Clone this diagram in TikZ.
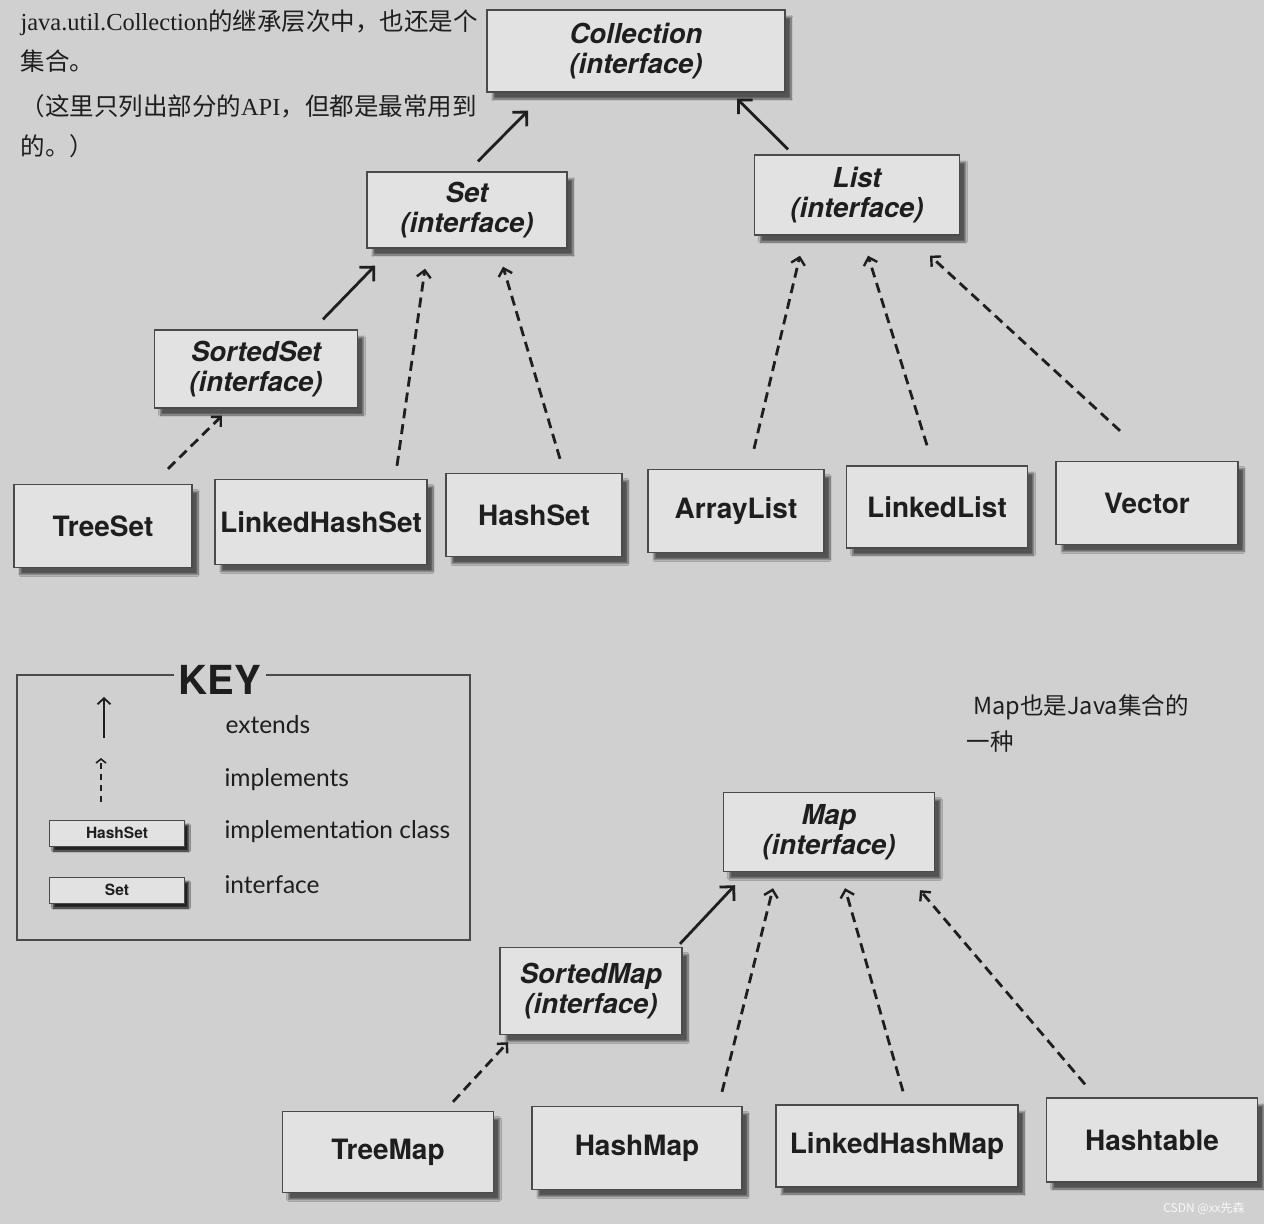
\documentclass[tikz,border=0pt]{standalone}
\usepackage{fontspec}
\usepackage{xcolor}
\usepackage{tikz}
\usetikzlibrary{calc,arrows.meta,shadows.blur}
\setmainfont{Liberation Serif}
\newfontfamily\boxfont{TeX Gyre Heros}
\newfontfamily\keyfont{Lato}
\newfontfamily\cjk{Noto Sans CJK SC}
\newcommand\zh[1]{{\cjk #1}}
\definecolor{cpaper}{HTML}{D0D0D0}
\definecolor{cbox}{HTML}{E2E2E2}
\definecolor{cedge}{HTML}{4A4A4A}
\definecolor{cink}{HTML}{1E1E1E}

\begin{document}
\begin{tikzpicture}[x=1pt,y=-1pt,
  cbx/.style={draw=cedge,line width=1.4pt,fill=cbox,inner sep=0pt,align=center,text=cink,
  blur shadow={shadow xshift=6pt,shadow yshift=-7pt,shadow opacity=60,shadow blur steps=10},
  font=\boxfont\bfseries\fontsize{28}{30}\selectfont},
  ifc/.style={cbx,font=\boxfont\bfseries\itshape\fontsize{27.5}{29.5}\selectfont},
  keybx/.style={cbx,line width=1pt,minimum width=135pt,minimum height=26pt,
  blur shadow={shadow xshift=4pt,shadow yshift=-5pt,shadow opacity=60},
  font=\boxfont\bfseries\fontsize{15.5}{17}\selectfont},
  ext/.style={-{Straight Barb[length=10pt,width=20pt,line width=2.8pt]},line width=2.8pt,draw=cink},
  impl/.style={-{Straight Barb[length=7pt,width=14pt,line width=2.4pt]},line width=2.8pt,draw=cink,dash pattern=on 10pt off 6pt},
  keytxt/.style={anchor=base west,text=cink,font=\keyfont\fontsize{24.5}{27}\selectfont},
  note/.style={anchor=base west,text=cink,font=\fontsize{24.5}{28}\selectfont}]
\useasboundingbox (0,0) rectangle (1264,1224);
\fill[cpaper] (0,0) rectangle (1264,1224);
% notes
\node[note] (note1) at (17,30) {java.util.Collection\zh{的继承层次中，也还是个}};
\node[note] (note2) at (17,70) {\zh{集合。}};
\node[note] (note3) at (17,115) {\zh{（这里只列出部分的}API\zh{，但都是最常用到}};
\node[note] (note4) at (17,155) {\zh{的。）}};
\node[anchor=base west,text=cink,font=\cjk\fontsize{23.5}{26}\selectfont] (mapnote1) at (970,714) {Map也是Java集合的};
\node[anchor=base west,text=cink,font=\cjk\fontsize{23.5}{26}\selectfont] (mapnote2) at (963,750) {一种};
% collection tree
\node[ifc,minimum width=298pt,minimum height=82pt] (coll) at (636,51) {Collection\\(interface)};
\node[ifc,minimum width=200pt,minimum height=76pt] (set) at (467,210) {Set\\(interface)};
\node[ifc,minimum width=205pt,minimum height=80pt] (list) at (857,195) {List\\(interface)};
\node[ifc,minimum width=203pt,minimum height=78pt] (sset) at (256,369) {SortedSet\\(interface)};
\node[cbx,minimum width=178pt,minimum height=83pt] (tset) at (103,526) {TreeSet};
\node[cbx,minimum width=212pt,minimum height=85pt] (lhset) at (321,522) {LinkedHashSet};
\node[cbx,minimum width=176pt,minimum height=83pt] (hset) at (534,515) {HashSet};
\node[cbx,minimum width=176pt,minimum height=83pt] (alist) at (736,511) {ArrayList};
\node[cbx,minimum width=181pt,minimum height=82pt] (llist) at (937,507) {LinkedList};
\node[cbx,minimum width=182pt,minimum height=83pt] (vec) at (1147,503) {Vector};
\draw[ext] ([xshift=11pt,yshift=10pt]set.north) -- ([xshift=-108pt,yshift=-18pt]coll.south);
\draw[ext] ([xshift=-69pt,yshift=5pt]list.north) -- ([xshift=101pt,yshift=-6pt]coll.south);
\draw[ext] ([xshift=67pt,yshift=10pt]sset.north) -- ([xshift=-92pt,yshift=-17pt]set.south);
\draw[impl] ([xshift=76pt,yshift=13pt]lhset.north) -- ([xshift=-42pt,yshift=-20pt]set.south);
\draw[impl] ([xshift=26pt,yshift=14pt]hset.north) -- ([xshift=36pt,yshift=-18pt]set.south);
\draw[impl] ([xshift=65pt,yshift=15pt]tset.north) -- ([xshift=-34pt,yshift=-7pt]sset.south);
\draw[impl] ([xshift=18pt,yshift=20pt]alist.north) -- ([xshift=-57pt,yshift=-20pt]list.south);
\draw[impl] ([xshift=-10pt,yshift=20pt]llist.north) -- ([xshift=11pt,yshift=-20pt]list.south);
\draw[impl] ([xshift=-27pt,yshift=30pt]vec.north) -- ([xshift=73pt,yshift=-20pt]list.south);
% key
\draw[cedge,line width=1.4pt] (17,675) rectangle (470,940);
\node[fill=cpaper,inner sep=5pt,text=cink,font=\boxfont\bfseries\fontsize{40}{40}\selectfont] (keyhead) at (220,680) {KEY};
\coordinate (extlo) at (104,738);\coordinate (exthi) at (104,697);
\coordinate (impllo) at (101,802);\coordinate (implhi) at (101,758);
\draw[-{Straight Barb[length=6pt,width=13pt,line width=1.8pt]},line width=1.8pt,draw=cink] (extlo) -- (exthi);
\draw[-{Straight Barb[length=4pt,width=10pt,line width=1.6pt]},line width=2pt,draw=cink,dash pattern=on 6pt off 5pt] (impllo) -- (implhi);
\node[keybx] (keyimpl) at (117,833) {HashSet};
\node[keybx] (keyifc) at (117,890) {Set};
\node[keytxt] (extlbl) at (222,733) {extends};
\node[keytxt] (impllbl) at (221,786) {implements};
\node[keytxt] (clslbl) at (221,838) {implementation class};
\node[keytxt] (ifclbl) at (221,893) {interface};
% map tree
\node[ifc,minimum width=211pt,minimum height=79pt] (map) at (829,832) {Map\\(interface)};
\node[ifc,minimum width=182pt,minimum height=87pt] (smap) at (591,991) {SortedMap\\(interface)};
\node[cbx,minimum width=211pt,minimum height=81pt] (tmap) at (388,1152) {TreeMap};
\node[cbx,minimum width=210pt,minimum height=83pt] (hmap) at (637,1148) {HashMap};
\node[cbx,minimum width=242pt,minimum height=82pt] (lhmap) at (897,1146) {LinkedHashMap};
\node[cbx,minimum width=211pt,minimum height=84pt] (htab) at (1152,1140) {Hashtable};
\draw[ext] ([xshift=89pt,yshift=3pt]smap.north) -- ([xshift=-94pt,yshift=-13pt]map.south);
\draw[impl] ([xshift=65pt,yshift=9pt]tmap.north) -- ([xshift=-83pt,yshift=-7pt]smap.south);
\draw[impl] ([xshift=85pt,yshift=14pt]hmap.north) -- ([xshift=-56pt,yshift=-16pt]map.south);
\draw[impl] ([xshift=6pt,yshift=13pt]lhmap.north) -- ([xshift=16pt,yshift=-16pt]map.south);
\draw[impl] ([xshift=-67pt,yshift=13pt]htab.north) -- ([xshift=91pt,yshift=-18pt]map.south);
\node[text=white!85!cpaper,font=\cjk\fontsize{12}{14}\selectfont] (mark) at (1204,1208) {CSDN @xx先森};
\end{tikzpicture}
\end{document}
